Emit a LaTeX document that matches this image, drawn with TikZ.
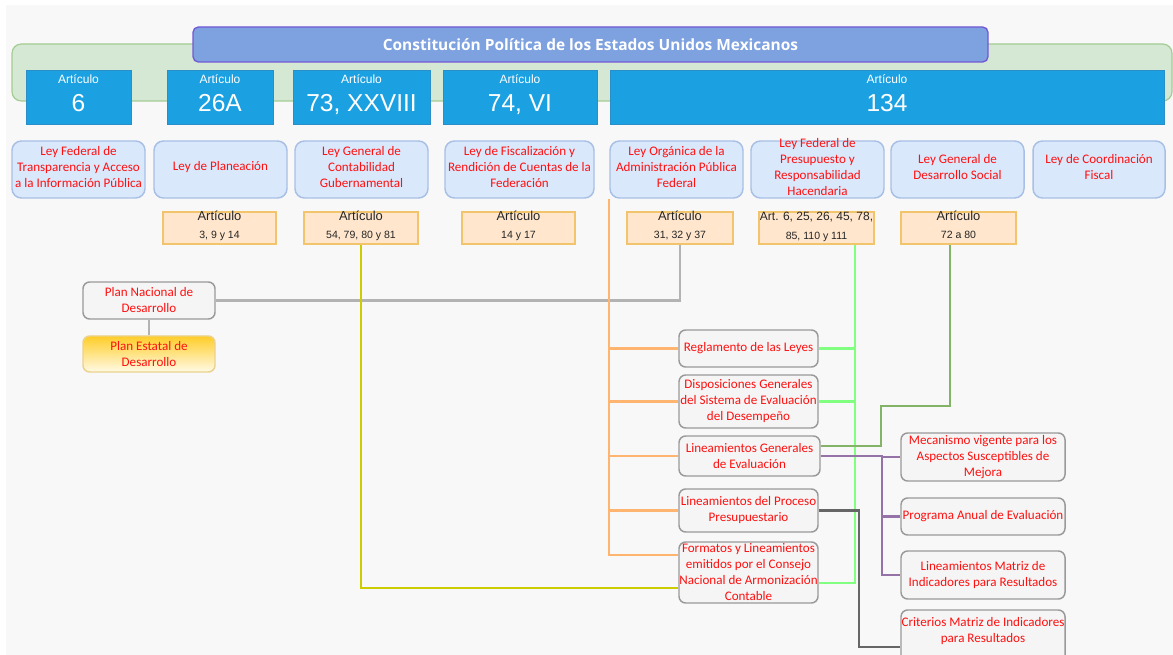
\documentclass[tikz,border=0pt]{standalone}
\usepackage{fontspec}
\setmainfont{Carlito}
\newfontfamily\arialf{Liberation Sans}
\newfontfamily\titlef{Open Sans}
\usetikzlibrary{calc}
\definecolor{bggray}{HTML}{F8F8F8}
\definecolor{bannerfill}{HTML}{7EA1E0}
\definecolor{bannerborder}{HTML}{7358D4}
\definecolor{regfill}{HTML}{D5E8D4}
\definecolor{regborder}{HTML}{A3CC92}
\definecolor{artfill}{HTML}{1BA1E2}
\definecolor{artborder}{HTML}{2A8FC8}
\definecolor{lawfill}{HTML}{DAE8FC}
\definecolor{lawborder}{HTML}{A8C0E6}
\definecolor{subfill}{HTML}{FFE6CC}
\definecolor{subborder}{HTML}{F2C46B}
\definecolor{grayfill}{HTML}{F5F5F5}
\definecolor{grayborder}{HTML}{9A9A9A}
\definecolor{estataltop}{HTML}{FFCD28}
\definecolor{estatalbot}{HTML}{FFFAE6}
\definecolor{estatalborder}{HTML}{EBD28E}
\definecolor{corange}{HTML}{FFB570}
\definecolor{cgreen}{HTML}{80FF80}
\definecolor{cdkgreen}{HTML}{82B366}
\definecolor{cpurple}{HTML}{9673A6}
\definecolor{cdkgray}{HTML}{666666}
\definecolor{cyellow}{HTML}{CCCC00}
\definecolor{cltgray}{HTML}{B3B3B3}
\definecolor{txtred}{HTML}{FF1010}
\newcommand\mkshape[6]{\node[#6,minimum width={(#4-#2)*0.75pt},minimum height={(#5-#3)*0.75pt}] (#1) at ({(#2+#4)/2},{(#3+#5)/2}) {};}
\newcommand\mkbox[8]{\mkshape{#1}{#2}{#3}{#4}{#5}{#6}\node[#7] (#1t) at (#1.center) {#8};}
\begin{document}
\begin{tikzpicture}[x=0.75pt,y=-0.75pt,
  regbox/.style={draw=regborder, fill=regfill, line width=0.9pt, rounded corners=7pt, inner sep=0pt},
  bannerbox/.style={draw=bannerborder, fill=bannerfill, line width=1pt, rounded corners=4pt, inner sep=0pt},
  lawbox/.style={draw=lawborder, fill=lawfill, line width=1.1pt, rounded corners=7pt, inner sep=0pt},
  artbox/.style={draw=artborder, fill=artfill, line width=0.6pt, inner sep=0pt},
  subbox/.style={draw=subborder, fill=subfill, line width=1pt, inner sep=0pt},
  graybox/.style={draw=grayborder, fill=grayfill, line width=1.1pt, rounded corners=5pt, inner sep=0pt},
  estatalbox/.style={draw=estatalborder, top color=estataltop, bottom color=estatalbot, line width=1.1pt, rounded corners=5pt, inner sep=0pt},
  titletxt/.style={text=white, font=\titlef\bfseries\fontsize{11.6}{13}\selectfont, inner sep=0pt},
  redtxt/.style={text=txtred, font=\fontsize{9.8}{12}\selectfont, align=center, inner sep=0pt},
  lawtxt/.style={redtxt, yshift=2pt},
  arttop/.style={text=white, font=\arialf\fontsize{9}{10}\selectfont, anchor=base, inner sep=0pt},
  artnum/.style={text=white, font=\arialf\fontsize{18.4}{20}\selectfont, anchor=base, inner sep=0pt},
  subtop/.style={text=black!85, font=\arialf\fontsize{9.7}{10}\selectfont, anchor=base, inner sep=0pt},
  subnum/.style={text=black!85, font=\arialf\fontsize{7.9}{9}\selectfont, anchor=base, inner sep=0pt},
  conn/.style={line width=1.6pt},
]
% page and background
\useasboundingbox (0,0) rectangle (1173,655);
\fill[white] (0,0) rectangle (1173,655);
\fill[bggray] (6,5) rectangle (1173,655);

% constitution region
\mkshape{reg}{12}{44}{1172}{101}{regbox}
\mkbox{banner}{193}{27}{988}{62}{bannerbox}{titletxt}{Constitución Política de los Estados Unidos Mexicanos}

% article boxes
\mkshape{A6}{26}{70}{131}{124}{artbox}
\node[arttop] (A6a) at ($(A6.north)+(0,14)$) {Artículo};
\node[artnum] (A6n) at ($(A6.north)+(0,42)$) {6};
\mkshape{A26}{167}{70}{273}{124}{artbox}
\node[arttop] (A26a) at ($(A26.north)+(0,14)$) {Artículo};
\node[artnum] (A26n) at ($(A26.north)+(0,42)$) {26A};
\mkshape{A73}{293}{70}{430}{124}{artbox}
\node[arttop] (A73a) at ($(A73.north)+(0,14)$) {Artículo};
\node[artnum] (A73n) at ($(A73.north)+(0,42)$) {73, XXVIII};
\mkshape{A74}{443}{70}{597}{124}{artbox}
\node[arttop] (A74a) at ($(A74.north)+(0,14)$) {Artículo};
\node[artnum] (A74n) at ($(A74.north)+(0,42)$) {74, VI};
\mkshape{A134}{610}{70}{1164}{124}{artbox}
\node[arttop] (A134a) at ($(A134.north)+(0,14)$) {Artículo};
\node[artnum] (A134n) at ($(A134.north)+(0,42)$) {134};

% laws
\mkbox{L1}{12}{141}{145}{198}{lawbox}{lawtxt}{Ley Federal de\\Transparencia y Acceso\\a la Información Pública}
\mkbox{L2}{154}{141}{287}{198}{lawbox}{lawtxt}{Ley de Planeación}
\mkbox{L3}{295}{141}{428}{198}{lawbox}{lawtxt}{Ley General de\\Contabilidad\\Gubernamental}
\mkbox{L4}{445}{141}{594}{198}{lawbox}{lawtxt}{Ley de Fiscalización y\\Rendición de Cuentas de la\\Federación}
\mkbox{L5}{610}{141}{743}{198}{lawbox}{lawtxt}{Ley Orgánica de la\\Administración Pública\\Federal}
\mkbox{L6}{751}{141}{884}{198}{lawbox}{lawtxt}{Ley Federal de\\Presupuesto y\\Responsabilidad\\Hacendaria}
\mkbox{L7}{891}{141}{1024}{198}{lawbox}{lawtxt}{Ley General de\\Desarrollo Social}
\mkbox{L8}{1033}{141}{1165}{198}{lawbox}{lawtxt}{Ley de Coordinación\\Fiscal}

% bend points of the connectors
\coordinate (gx) at (855,0);
\coordinate (dg1) at (950,406);
\coordinate (dg2) at (881,406);
\coordinate (dg3) at (881,446);
\coordinate (px) at (882,0);
\coordinate (kx) at (859,0);
\coordinate (kb) at (0,647);
\coordinate (yb) at (0,588);
\coordinate (gb) at (0,583);
\coordinate (ob) at (0,555);

% sub article boxes
\mkshape{S1}{163}{212}{276}{244}{subbox}
\node[subtop] (S1a) at ($(S1.north)+(0,9)$) {Artículo};
\node[subnum] (S1n) at ($(S1.north)+(0,27)$) {3, 9 y 14};
\mkshape{S2}{304}{212}{418}{244}{subbox}
\node[subtop] (S2a) at ($(S2.north)+(0,9)$) {Artículo};
\node[subnum] (S2n) at ($(S2.north)+(0,27)$) {54, 79, 80 y 81};
\mkshape{S3}{462}{212}{575}{244}{subbox}
\node[subtop] (S3a) at ($(S3.north)+(0,9)$) {Artículo};
\node[subnum] (S3n) at ($(S3.north)+(0,27)$) {14 y 17};
\mkshape{S4}{627}{212}{733}{244}{subbox}
\node[subtop] (S4a) at ($(S4.north)+(0,9)$) {Artículo};
\node[subnum] (S4n) at ($(S4.north)+(0,27)$) {31, 32 y 37};
\mkshape{S5}{759}{212}{874}{244}{subbox}
\node[subtop, font=\arialf\fontsize{9}{10}\selectfont] (S5a) at ($(S5.north)+(0,9)$) {Art. 6, 25, 26, 45, 78,};
\node[subnum] (S5n) at ($(S5.north)+(0,28)$) {85, 110 y 111};
\mkshape{S6}{901}{212}{1016}{244}{subbox}
\node[subtop] (S6a) at ($(S6.north)+(0,9)$) {Artículo};
\node[subnum] (S6n) at ($(S6.north)+(0,27)$) {72 a 80};

% plans
\mkshape{PN}{83}{282}{215}{319}{graybox}
\mkshape{PE}{83}{336}{215}{372}{estatalbox}
% right column
\mkshape{R1}{679}{330}{818}{367}{graybox}
\mkshape{R2}{679}{375}{818}{428}{graybox}
\mkshape{R3}{679}{436}{820}{476}{graybox}
\mkshape{R4}{679}{489}{818}{532}{graybox}
\mkshape{R5}{679}{542}{818}{603}{graybox}
\mkshape{M1}{901}{433}{1065}{481}{graybox}
\mkshape{M2}{901}{498}{1065}{535}{graybox}
\mkshape{M3}{901}{551}{1065}{599}{graybox}
\mkshape{M4}{901}{610}{1065}{690}{graybox}
\coordinate (m4c) at (983,631);

% connectors
\draw[conn, cltgray] (S4.south) -- (S4.south |- PN.east) -- (PN.east);
\draw[conn, cltgray] (PN.south) -- (PE.north);
\draw[conn, corange] (L5.south west) -- (L5.south west |- ob) -- (R5.west |- ob);
\foreach \r in {R1,R2,R3,R4}{\draw[conn, corange] (L5.south west |- \r.west) -- (\r.west);}
\draw[conn, cyellow] (S2.south) -- (S2.south |- yb) -- (R5.west |- yb);
\draw[conn, cgreen] (S5.south -| gx) -- (gx |- gb) -- (R5.east |- gb);
\draw[conn, cgreen] (gx |- R1.east) -- (R1.east);
\draw[conn, cgreen] (gx |- R2.east) -- (R2.east);
\draw[conn, cdkgreen] (S6.south -| dg1) -- (dg1) -- (dg2) -- (dg3) -- (R3.east |- dg3);
\draw[conn, cpurple] (R3.east) -- (R3.east -| px) -- (px |- M3.west) -- (M3.west);
\draw[conn, cpurple] (px |- M1.west) -- (M1.west);
\draw[conn, cpurple] (px |- M2.west) -- (M2.west);
\draw[conn, cdkgray] (R4.east) -- (R4.east -| kx) -- (kx |- kb) -- (M4.west |- kb);

% texts of the gray boxes
\node[redtxt] (PNt) at (PN.center) {Plan Nacional de\\Desarrollo};
\node[redtxt] (PEt) at (PE.center) {Plan Estatal de\\Desarrollo};
\node[redtxt] (R1t) at (R1.center) {Reglamento de las Leyes};
\node[redtxt] (R2t) at (R2.center) {Disposiciones Generales\\del Sistema de Evaluación\\del Desempeño};
\node[redtxt] (R3t) at (R3.center) {Lineamientos Generales\\de Evaluación};
\node[redtxt] (R4t) at (R4.center) {Lineamientos del Proceso\\Presupuestario};
\node[redtxt] (R5t) at (R5.center) {Formatos y Lineamientos\\emitidos por el Consejo\\Nacional de Armonización\\Contable};
\node[redtxt] (M1t) at (M1.center) {Mecanismo vigente para los\\Aspectos Susceptibles de\\Mejora};
\node[redtxt] (M2t) at (M2.center) {Programa Anual de Evaluación};
\node[redtxt] (M3t) at (M3.center) {Lineamientos Matriz de\\Indicadores para Resultados};
\node[redtxt] (M4t) at (m4c) {Criterios Matriz de Indicadores\\para Resultados};
\end{tikzpicture}
\end{document}
